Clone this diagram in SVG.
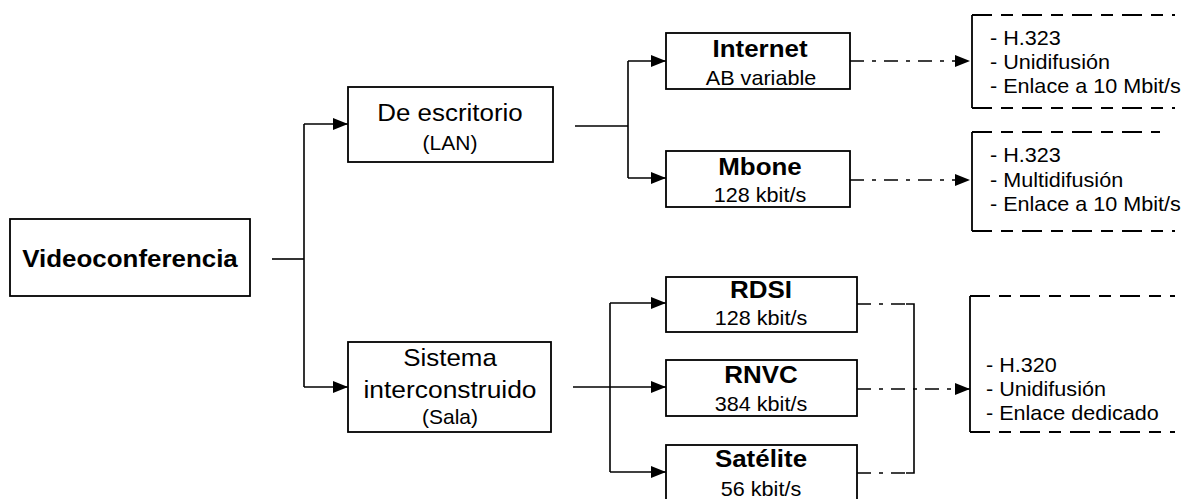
<svg xmlns="http://www.w3.org/2000/svg" width="1191" height="499" viewBox="0 0 1191 499">
  <defs>
    <marker id="arrow" markerWidth="15" markerHeight="12" refX="15" refY="6" orient="auto" markerUnits="userSpaceOnUse">
      <path d="M0,0 L15,6 L0,12 Z" fill="#000"/>
    </marker>
  </defs>
  <style>
    .box { fill: #fff; stroke: #000; stroke-width: 1.8; }
    .side { fill: none; stroke: #000; stroke-width: 1.8; }
    .edge { fill: none; stroke: #000; stroke-width: 1.8; stroke-dasharray: 20 9 12 9; }
    .wire { fill: none; stroke: #000; stroke-width: 1.6; }
    .dash { fill: none; stroke: #000; stroke-width: 1.6; stroke-dasharray: 14 8 4 8; }
    .arr { marker-end: url(#arrow); }
    text { font-family: "Liberation Sans", Arial, Helvetica, sans-serif; fill: #000; }
    .big { font-size: 24px; }
    .bold { font-size: 24px; font-weight: bold; }
    .small { font-size: 20px; }
    .mid { text-anchor: middle; }
  </style>

  <rect width="1191" height="499" fill="#fff"/>

  <!-- connectors -->
  <g id="connectors">
    <path class="wire" d="M272,259 H304"/>
    <path class="wire" d="M304,124 V387"/>
    <path class="wire arr" d="M304,124 H348"/>
    <path class="wire arr" d="M304,387 H348"/>

    <path class="wire" d="M575,126 H628"/>
    <path class="wire" d="M628,61 V178"/>
    <path class="wire arr" d="M628,61 H666"/>
    <path class="wire arr" d="M628,178 H666"/>

    <path class="dash arr" d="M850,61 H970"/>
    <path class="dash arr" d="M850,180 H970"/>

    <path class="wire" d="M573,387 H610"/>
    <path class="wire" d="M610,303 V472"/>
    <path class="wire arr" d="M610,303 H666"/>
    <path class="wire arr" d="M610,387 H666"/>
    <path class="wire arr" d="M610,472 H666"/>

    <path class="dash" d="M857,304 H908"/>
    <path class="dash" d="M857,473 H908"/>
    <path class="wire" d="M906,304 H914 V473 H906"/>
    <path class="dash arr" d="M857,389 H970"/>
  </g>

  <!-- nodes -->
  <g id="n-videoconferencia">
    <rect class="box" x="10" y="219" width="240" height="77"/>
    <text class="bold mid" transform="translate(130 267) scale(1.08 1)">Videoconferencia</text>
  </g>

  <g id="n-escritorio">
    <rect class="box" x="348" y="87" width="205" height="75"/>
    <text class="big mid" transform="translate(450 121) scale(1.08 1)">De escritorio</text>
    <text class="small mid" transform="translate(450 150) scale(1.05 1)">(LAN)</text>
  </g>

  <g id="n-sistema">
    <rect class="box" x="348" y="342" width="203" height="90"/>
    <text class="big mid" transform="translate(450 366) scale(1.08 1)">Sistema</text>
    <text class="big mid" transform="translate(450 398) scale(1.1 1)">interconstruido</text>
    <text class="small mid" transform="translate(450 424) scale(1.05 1)">(Sala)</text>
  </g>

  <g id="n-internet">
    <rect class="box" x="666" y="33" width="184" height="56"/>
    <text class="bold mid" transform="translate(760 57) scale(1.08 1)">Internet</text>
    <text class="small mid" transform="translate(761 85) scale(1.08 1)">AB variable</text>
  </g>

  <g id="n-mbone">
    <rect class="box" x="666" y="151" width="184" height="56"/>
    <text class="bold mid" transform="translate(760 175) scale(1.08 1)">Mbone</text>
    <text class="small mid" transform="translate(760 202) scale(1.08 1)">128 kbit/s</text>
  </g>

  <g id="n-rdsi">
    <rect class="box" x="666" y="277" width="191" height="55"/>
    <text class="bold mid" transform="translate(761 298) scale(1.08 1)">RDSI</text>
    <text class="small mid" transform="translate(761 325) scale(1.08 1)">128 kbit/s</text>
  </g>

  <g id="n-rnvc">
    <rect class="box" x="666" y="360" width="191" height="56"/>
    <text class="bold mid" transform="translate(761 383) scale(1.08 1)">RNVC</text>
    <text class="small mid" transform="translate(761 411) scale(1.08 1)">384 kbit/s</text>
  </g>

  <g id="n-satelite">
    <rect class="box" x="666" y="445" width="191" height="70"/>
    <text class="bold mid" transform="translate(761 467) scale(1.08 1)">Satélite</text>
    <text class="small mid" transform="translate(761 496) scale(1.08 1)">56 kbit/s</text>
  </g>

  <g id="n-h323-uni">
    <path class="side" d="M972,15 V108"/>
    <path class="edge" d="M972,15 H1175 M972,108 H1175"/>
    <text class="small" transform="translate(990 45) scale(1.08 1)">- H.323</text>
    <text class="small" transform="translate(990 69) scale(1.08 1)">- Unidifusión</text>
    <text class="small" transform="translate(990 93) scale(1.08 1)">- Enlace a 10 Mbit/s</text>
  </g>

  <g id="n-h323-multi">
    <path class="side" d="M972,132 V231"/>
    <path class="edge" d="M972,132 H1160 M972,231 H1175"/>
    <text class="small" transform="translate(990 162) scale(1.08 1)">- H.323</text>
    <text class="small" transform="translate(990 187) scale(1.08 1)">- Multidifusión</text>
    <text class="small" transform="translate(990 211) scale(1.08 1)">- Enlace a 10 Mbit/s</text>
  </g>

  <g id="n-h320">
    <path class="side" d="M970,296 V432"/>
    <path class="edge" d="M970,296 H1175 M970,432 H1175"/>
    <text class="small" transform="translate(986 372) scale(1.08 1)">- H.320</text>
    <text class="small" transform="translate(986 396) scale(1.08 1)">- Unidifusión</text>
    <text class="small" transform="translate(986 420) scale(1.08 1)">- Enlace dedicado</text>
  </g>
</svg>
